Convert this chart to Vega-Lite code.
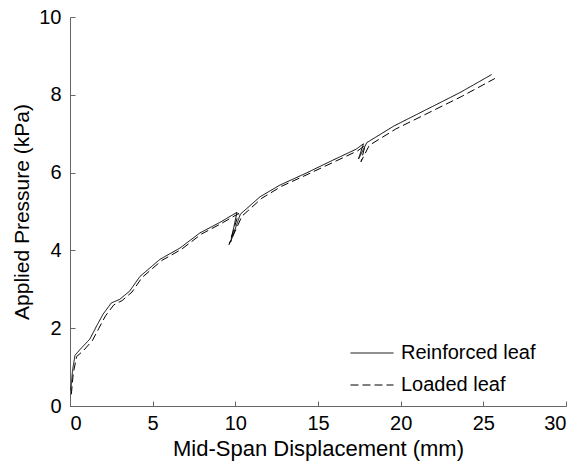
{
  "$schema": "https://vega.github.io/schema/vega-lite/v6.json",
  "width": 496,
  "height": 389,
  "autosize": "none",
  "padding": {"left": 70, "top": 17, "right": 12, "bottom": 56},
  "background": "white",
  "config": {
    "view": {"stroke": null},
    "font": "Liberation Sans",
    "axis": {"grid": false, "domainColor": "#666666", "tickColor": "#666666", "labelColor": "#000000", "titleColor": "#000000", "labelFont": "Liberation Sans", "titleFont": "Liberation Sans", "labelFontSize": 20, "titleFontSize": 21, "titleFontWeight": "normal", "tickSize": -5}
  },
  "data": {
    "values": [
      {"s": "Reinforced leaf", "i": 1, "x": 0.05, "y": 0.4},
      {"s": "Reinforced leaf", "i": 2, "x": 0.15, "y": 0.9},
      {"s": "Reinforced leaf", "i": 3, "x": 0.3, "y": 1.3},
      {"s": "Reinforced leaf", "i": 4, "x": 0.6, "y": 1.45},
      {"s": "Reinforced leaf", "i": 5, "x": 1.2, "y": 1.72},
      {"s": "Reinforced leaf", "i": 6, "x": 1.6, "y": 2.05},
      {"s": "Reinforced leaf", "i": 7, "x": 2.0, "y": 2.36},
      {"s": "Reinforced leaf", "i": 8, "x": 2.5, "y": 2.65},
      {"s": "Reinforced leaf", "i": 9, "x": 3.0, "y": 2.74},
      {"s": "Reinforced leaf", "i": 10, "x": 3.6, "y": 2.95},
      {"s": "Reinforced leaf", "i": 11, "x": 4.23, "y": 3.33},
      {"s": "Reinforced leaf", "i": 12, "x": 5.44, "y": 3.77},
      {"s": "Reinforced leaf", "i": 13, "x": 6.65, "y": 4.06},
      {"s": "Reinforced leaf", "i": 14, "x": 7.86, "y": 4.45},
      {"s": "Reinforced leaf", "i": 15, "x": 9.07, "y": 4.72},
      {"s": "Reinforced leaf", "i": 16, "x": 10.1, "y": 4.98},
      {"s": "Reinforced leaf", "i": 17, "x": 9.72, "y": 4.22},
      {"s": "Reinforced leaf", "i": 18, "x": 10.3, "y": 4.93},
      {"s": "Reinforced leaf", "i": 19, "x": 11.5, "y": 5.38},
      {"s": "Reinforced leaf", "i": 20, "x": 12.7, "y": 5.68},
      {"s": "Reinforced leaf", "i": 21, "x": 14.3, "y": 5.99},
      {"s": "Reinforced leaf", "i": 22, "x": 15.9, "y": 6.32},
      {"s": "Reinforced leaf", "i": 23, "x": 17.3, "y": 6.6},
      {"s": "Reinforced leaf", "i": 24, "x": 17.75, "y": 6.74},
      {"s": "Reinforced leaf", "i": 25, "x": 17.45, "y": 6.35},
      {"s": "Reinforced leaf", "i": 26, "x": 17.95, "y": 6.77},
      {"s": "Reinforced leaf", "i": 27, "x": 19.6, "y": 7.2},
      {"s": "Reinforced leaf", "i": 28, "x": 21.6, "y": 7.63},
      {"s": "Reinforced leaf", "i": 29, "x": 23.6, "y": 8.06},
      {"s": "Reinforced leaf", "i": 30, "x": 25.5, "y": 8.52},
      {"s": "Loaded leaf", "i": 1, "x": 0.08, "y": 0.3},
      {"s": "Loaded leaf", "i": 2, "x": 0.2, "y": 0.85},
      {"s": "Loaded leaf", "i": 3, "x": 0.4, "y": 1.27},
      {"s": "Loaded leaf", "i": 4, "x": 0.8, "y": 1.42},
      {"s": "Loaded leaf", "i": 5, "x": 1.35, "y": 1.68},
      {"s": "Loaded leaf", "i": 6, "x": 1.75, "y": 2.0},
      {"s": "Loaded leaf", "i": 7, "x": 2.15, "y": 2.32},
      {"s": "Loaded leaf", "i": 8, "x": 2.65, "y": 2.6},
      {"s": "Loaded leaf", "i": 9, "x": 3.15, "y": 2.71},
      {"s": "Loaded leaf", "i": 10, "x": 3.75, "y": 2.93},
      {"s": "Loaded leaf", "i": 11, "x": 4.35, "y": 3.3},
      {"s": "Loaded leaf", "i": 12, "x": 5.55, "y": 3.74},
      {"s": "Loaded leaf", "i": 13, "x": 6.75, "y": 4.03},
      {"s": "Loaded leaf", "i": 14, "x": 7.95, "y": 4.42},
      {"s": "Loaded leaf", "i": 15, "x": 9.15, "y": 4.69},
      {"s": "Loaded leaf", "i": 16, "x": 10.2, "y": 4.95},
      {"s": "Loaded leaf", "i": 17, "x": 9.62, "y": 4.15},
      {"s": "Loaded leaf", "i": 18, "x": 10.4, "y": 4.88},
      {"s": "Loaded leaf", "i": 19, "x": 11.6, "y": 5.34},
      {"s": "Loaded leaf", "i": 20, "x": 12.8, "y": 5.65},
      {"s": "Loaded leaf", "i": 21, "x": 14.4, "y": 5.96},
      {"s": "Loaded leaf", "i": 22, "x": 16.0, "y": 6.28},
      {"s": "Loaded leaf", "i": 23, "x": 17.4, "y": 6.56},
      {"s": "Loaded leaf", "i": 24, "x": 17.85, "y": 6.7},
      {"s": "Loaded leaf", "i": 25, "x": 17.6, "y": 6.28},
      {"s": "Loaded leaf", "i": 26, "x": 18.1, "y": 6.7},
      {"s": "Loaded leaf", "i": 27, "x": 19.7, "y": 7.12},
      {"s": "Loaded leaf", "i": 28, "x": 21.7, "y": 7.54},
      {"s": "Loaded leaf", "i": 29, "x": 23.7, "y": 7.96},
      {"s": "Loaded leaf", "i": 30, "x": 25.7, "y": 8.42}
    ]
  },
  "mark": {"type": "line", "strokeWidth": 1, "color": "#000000"},
  "encoding": {
    "x": {"field": "x", "type": "quantitative", "scale": {"domain": [0, 30], "nice": false}, "axis": {"title": "Mid-Span Displacement (mm)", "titleFontSize": 22, "values": [0, 5, 10, 15, 20, 25, 30], "labelPadding": 12, "titlePadding": 5}},
    "y": {"field": "y", "type": "quantitative", "scale": {"domain": [0, 10], "nice": false}, "axis": {"title": "Applied Pressure (kPa)", "values": [0, 2, 4, 6, 8, 10], "labelPadding": 14, "titlePadding": 6}},
    "order": {"field": "i", "type": "quantitative"},
    "strokeDash": {
      "field": "s", "type": "nominal",
      "scale": {"domain": ["Reinforced leaf", "Loaded leaf"], "range": [[1, 0], [8, 4]]},
      "legend": {"title": null, "orient": "none", "legendX": 280, "legendY": 314, "labelFontSize": 20, "labelFont": "Liberation Sans", "labelColor": "#000000", "symbolType": "stroke", "symbolSize": 1849, "symbolStrokeWidth": 1, "symbolStrokeColor": "#000000", "rowPadding": -13, "labelOffset": 7}
    }
  }
}
